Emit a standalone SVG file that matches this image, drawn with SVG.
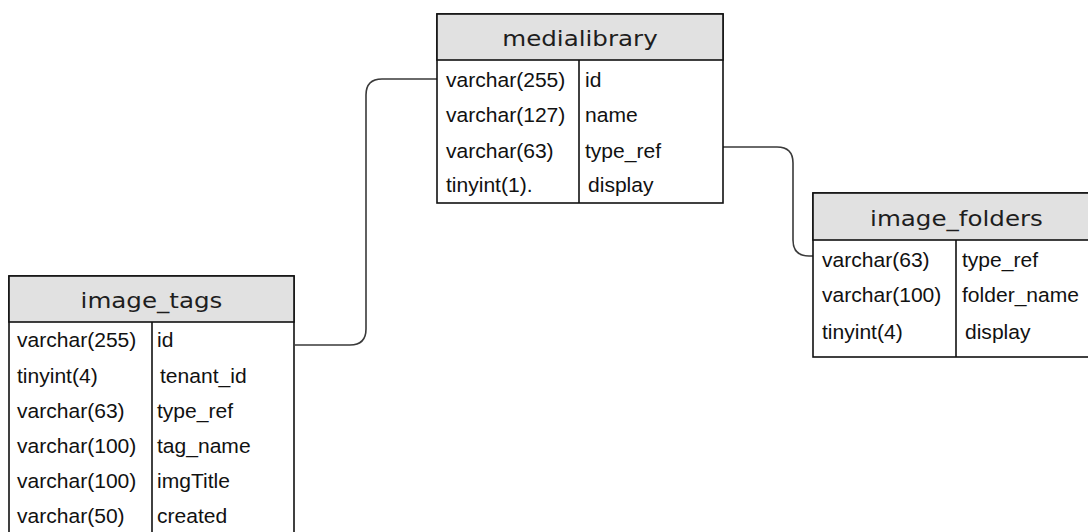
<svg xmlns="http://www.w3.org/2000/svg" width="1088" height="532" viewBox="0 0 1088 532">
<style>
.box { fill: #ffffff; stroke: #111111; stroke-width: 1.6; }
.hdr { fill: #e1e1e1; stroke: #111111; stroke-width: 1.6; }
.div { stroke: #111111; stroke-width: 1.6; }
.title { font-family: "DejaVu Sans", Verdana, sans-serif; font-size: 21px; fill: #1e1e1e; text-anchor: middle; transform-box: fill-box; transform-origin: 50% 50%; transform: scaleX(1.17); }
.cell { font-family: "Liberation Sans", Arial, Helvetica, sans-serif; font-size: 19.5px; fill: #111111; transform-box: fill-box; transform-origin: 0 0; transform: scaleX(1.08); }
.conn { fill: none; stroke: #3a3a3a; stroke-width: 1.6; }
</style>
<rect width="1088" height="532" fill="#ffffff"/>
<g id="connectors">
  <path class="conn" d="M 295 345 L 350 345 Q 366 345 366 329 L 366 95 Q 366 79 382 79 L 437 79"/>
  <path class="conn" d="M 723 147 L 777 147 Q 793 147 793 163 L 793 240 Q 793 256 809 256 L 813 256"/>
</g>
<g id="medialibrary">
  <rect class="box" x="437" y="14" width="286" height="189"/>
  <rect class="hdr" x="437" y="14" width="286" height="46"/>
  <line class="div" x1="579" y1="60" x2="579" y2="203"/>
  <text class="title" x="580" y="46">medialibrary</text>
  <text class="cell" x="446" y="87">varchar(255)</text>
  <text class="cell" x="585" y="87">id</text>
  <text class="cell" x="446" y="122">varchar(127)</text>
  <text class="cell" x="585" y="122">name</text>
  <text class="cell" x="446" y="158">varchar(63)</text>
  <text class="cell" x="585" y="158">type_ref</text>
  <text class="cell" x="446" y="192">tinyint(1).</text>
  <text class="cell" x="588" y="192">display</text>
</g>
<g id="image_folders">
  <rect class="box" x="813" y="193" width="287" height="164"/>
  <rect class="hdr" x="813" y="193" width="287" height="47"/>
  <line class="div" x1="956" y1="240" x2="956" y2="357"/>
  <text class="title" x="956.5" y="226">image_folders</text>
  <text class="cell" x="822" y="267">varchar(63)</text>
  <text class="cell" x="962" y="267">type_ref</text>
  <text class="cell" x="822" y="302">varchar(100)</text>
  <text class="cell" x="962" y="302">folder_name</text>
  <text class="cell" x="822" y="339">tinyint(4)</text>
  <text class="cell" x="965" y="339">display</text>
</g>
<g id="image_tags">
  <rect class="box" x="9" y="276" width="285" height="270"/>
  <rect class="hdr" x="9" y="276" width="285" height="46"/>
  <line class="div" x1="152" y1="322" x2="152" y2="546"/>
  <text class="title" x="151.5" y="308">image_tags</text>
  <text class="cell" x="17" y="347">varchar(255)</text>
  <text class="cell" x="157" y="347">id</text>
  <text class="cell" x="17" y="383">tinyint(4)</text>
  <text class="cell" x="160" y="383">tenant_id</text>
  <text class="cell" x="17" y="418">varchar(63)</text>
  <text class="cell" x="157" y="418">type_ref</text>
  <text class="cell" x="17" y="453">varchar(100)</text>
  <text class="cell" x="157" y="453">tag_name</text>
  <text class="cell" x="17" y="488">varchar(100)</text>
  <text class="cell" x="157" y="488">imgTitle</text>
  <text class="cell" x="17" y="523">varchar(50)</text>
  <text class="cell" x="157" y="523">created</text>
</g>
</svg>
